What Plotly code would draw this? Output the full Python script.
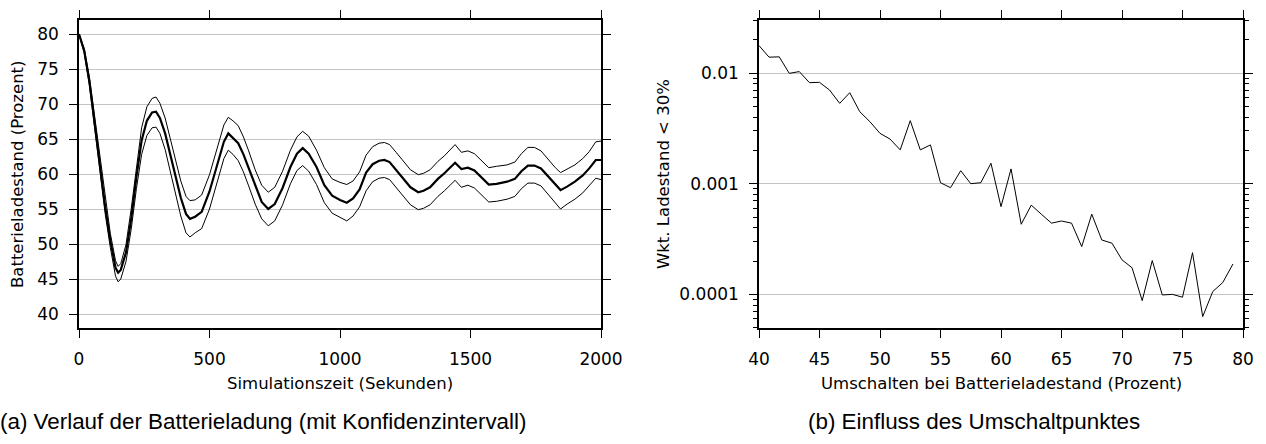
import plotly.graph_objects as go

# (a) Batterieladung ueber die Zeit (Mittelwert + Konfidenzintervall)
zeit = [0, 20, 40, 60, 80, 100, 120, 140, 150, 160, 180, 200, 220, 240, 260, 280, 295, 310,
        330, 350, 370, 390, 410, 425, 445, 470, 500, 530, 555, 572, 590, 610, 630, 650, 675,
        700, 725, 750, 780, 810, 835, 857, 880, 910, 940, 970, 1000, 1026, 1050, 1075, 1100,
        1125, 1150, 1170, 1190, 1215, 1240, 1270, 1300, 1320, 1345, 1375, 1400, 1420, 1441,
        1465, 1490, 1515, 1540, 1570, 1600, 1640, 1670, 1695, 1720, 1745, 1770, 1800, 1825,
        1845, 1870, 1900, 1930, 1955, 1980, 2000]
mittel = [80.0, 77.6, 73.2, 67.4, 61.3, 55.4, 50.5, 46.6, 45.9, 46.3, 48.8, 53.6, 59.6, 64.8,
          67.6, 68.8, 68.9, 68.0, 65.8, 62.6, 59.6, 56.6, 54.3, 53.6, 53.9, 54.6, 57.5, 61.5,
          64.6, 65.8, 65.2, 64.4, 62.8, 60.8, 58.2, 56.0, 55.0, 55.7, 58.0, 61.0, 62.9, 63.7,
          62.9, 61.0, 58.4, 56.9, 56.3, 55.9, 56.5, 57.8, 60.2, 61.4, 61.9, 62.0, 61.7, 60.6,
          59.4, 58.1, 57.4, 57.6, 58.1, 59.3, 60.1, 60.9, 61.6, 60.7, 60.9, 60.5, 59.6, 58.5,
          58.6, 58.9, 59.3, 60.4, 61.2, 61.2, 60.8, 59.5, 58.5, 57.7, 58.2, 58.9, 59.8, 60.8,
          62.0, 62.0]
oben = [80.0, 77.9, 73.8, 68.2, 62.2, 56.4, 51.5, 47.6, 46.8, 47.2, 49.9, 55.0, 61.2, 66.6,
        69.6, 70.8, 71.0, 70.1, 68.0, 65.0, 62.0, 59.0, 56.8, 56.2, 56.3, 57.0, 59.9, 63.9,
        67.0, 68.1, 67.6, 66.9, 65.3, 63.3, 60.6, 58.4, 57.4, 58.1, 60.4, 63.4, 65.3, 66.1,
        65.4, 63.4, 60.9, 59.3, 58.8, 58.5, 59.0, 60.3, 62.7, 63.9, 64.4, 64.5, 64.2, 63.1,
        61.9, 60.6, 59.9, 60.1, 60.6, 61.8, 62.6, 63.4, 64.2, 63.1, 63.3, 62.9, 62.0, 60.9,
        61.1, 61.3, 61.7, 62.9, 63.8, 63.8, 63.3, 61.9, 60.9, 60.2, 60.7, 61.3, 62.2, 63.2,
        64.6, 64.7]
unten = [80.0, 77.3, 72.6, 66.6, 60.4, 54.4, 49.5, 45.4, 44.6, 45.0, 47.5, 52.1, 57.9, 62.8,
         65.5, 66.6, 66.7, 65.8, 63.5, 60.3, 57.2, 54.0, 51.6, 51.0, 51.6, 52.2, 55.0, 59.0,
         62.2, 63.4, 62.8, 61.9, 60.3, 58.3, 55.7, 53.6, 52.6, 53.3, 55.6, 58.6, 60.5, 61.2,
         60.4, 58.5, 55.9, 54.4, 53.8, 53.3, 54.0, 55.3, 57.6, 58.9, 59.4, 59.5, 59.2, 58.1,
         56.9, 55.6, 54.9, 55.1, 55.6, 56.8, 57.6, 58.4, 59.1, 58.1, 58.4, 58.0, 57.1, 56.0,
         56.1, 56.4, 56.8, 57.9, 58.7, 58.7, 58.3, 57.0, 56.0, 55.0, 55.7, 56.4, 57.3, 58.3,
         59.4, 59.2]

# (b) Wahrscheinlichkeit Ladestand < 30% je Umschaltpunkt
umschalt = [40.0, 40.83, 41.67, 42.5, 43.33, 44.17, 45.0, 45.83, 46.67, 47.5, 48.33, 49.17,
            50.0, 50.83, 51.67, 52.5, 53.33, 54.17, 55.0, 55.83, 56.67, 57.5, 58.33, 59.17,
            60.0, 60.83, 61.67, 62.5, 63.33, 64.17, 65.0, 65.83, 66.67, 67.5, 68.33, 69.17,
            70.0, 70.83, 71.67, 72.5, 73.33, 74.17, 75.0, 75.83, 76.67, 77.5, 78.33, 79.17]
wkt = [0.0177, 0.0139, 0.0140, 0.00993, 0.0103, 0.00818, 0.00824, 0.00702, 0.00532, 0.00664,
       0.00447, 0.00363, 0.00285, 0.00253, 0.00202, 0.00371, 0.00202, 0.00224, 0.00102,
       0.00092, 0.00131, 0.00100, 0.00102, 0.00153, 0.00062, 0.00136, 0.00043, 0.00064,
       0.00053, 0.00044, 0.00046, 0.00044, 0.00027, 0.00053, 0.00031, 0.00029, 0.000205,
       0.000174, 0.0000877, 0.000202, 0.0000988, 0.000100, 0.0000942, 0.000238, 0.0000629,
       0.000106, 0.000128, 0.000188]

y_ticks_a = [40, 45, 50, 55, 60, 65, 70, 75, 80]
x_ticks_a = [0, 500, 1000, 1500, 2000]
x_ticks_b = [40, 45, 50, 55, 60, 65, 70, 75, 80]
y_ticks_b = [0.0001, 0.001, 0.01]
y_text_b = ['0.0001', '0.001', '0.01']

W, H = 1266, 444
TICKFONT = dict(family='DejaVu Sans', size=17, color='black')
TITLEFONT = dict(family='DejaVu Sans', size=16.5, color='black')
CAPFONT = dict(family='Liberation Sans', size=22.4, color='black')

fig = go.Figure()

fig.add_trace(go.Scatter(x=zeit, y=oben, mode='lines', line=dict(color='black', width=1),
                         xaxis='x', yaxis='y', showlegend=False))
fig.add_trace(go.Scatter(x=zeit, y=unten, mode='lines', line=dict(color='black', width=1),
                         xaxis='x', yaxis='y', showlegend=False))
fig.add_trace(go.Scatter(x=zeit, y=mittel, mode='lines', line=dict(color='black', width=2.2),
                         xaxis='x', yaxis='y', showlegend=False))
fig.add_trace(go.Scatter(x=umschalt, y=wkt, mode='lines', line=dict(color='black', width=1),
                         xaxis='x2', yaxis='y2', showlegend=False))

common = dict(showline=True, linecolor='black', linewidth=1.5, mirror='ticks',
              ticks='outside', ticklen=8, tickcolor='black', tickwidth=1,
              tickfont=TICKFONT, zeroline=False, ticklabelstandoff=7, automargin=False)

fig.update_layout(
    width=W, height=H,
    margin=dict(l=0, r=0, t=0, b=0, autoexpand=False),
    paper_bgcolor='white', plot_bgcolor='white',
    xaxis=dict(domain=[79 / W, 601 / W], range=[0, 2000], tickvals=x_ticks_a,
               showgrid=False, anchor='y', **common),
    yaxis=dict(domain=[1 - 328 / H, 1 - 20 / H], range=[38, 82], tickvals=y_ticks_a,
               showgrid=True, gridcolor='#c4c4c4', gridwidth=1, anchor='x', **common),
    xaxis2=dict(domain=[759 / W, 1243 / W], range=[40, 80], tickvals=x_ticks_b,
                showgrid=False, anchor='y2', **common),
    yaxis2=dict(domain=[1 - 328 / H, 1 - 20 / H], type='log', range=[-4.304, -1.521],
                tickvals=y_ticks_b, ticktext=y_text_b,
                showgrid=True, gridcolor='#c4c4c4', gridwidth=1, anchor='x2',
                minor=dict(ticks='outside', ticklen=4, tickcolor='black', dtick='D1',
                           showgrid=False),
                **common),
)

anns = [
    dict(text='Simulationszeit (Sekunden)', x=340, y=383, font=TITLEFONT),
    dict(text='Umschalten bei Batterieladestand (Prozent)', x=1001, y=383, font=TITLEFONT),
    dict(text='Batterieladestand (Prozent)', x=17, y=174, font=TITLEFONT, textangle=-90),
    dict(text='Wkt. Ladestand < 30%', x=663, y=174, font=TITLEFONT, textangle=-90),
]
for a in anns:
    fig.add_annotation(text=a['text'], x=a['x'] / W, y=1 - a['y'] / H, xref='paper',
                       yref='paper', xanchor='center', yanchor='middle', showarrow=False,
                       font=a['font'], textangle=a.get('textangle', 0))

fig.add_annotation(text='(a) Verlauf der Batterieladung (mit Konfidenzintervall)',
                   x=-2 / W, y=1 - 421 / H, xref='paper', yref='paper', xanchor='left',
                   yanchor='middle', showarrow=False, font=CAPFONT)
fig.add_annotation(text='(b) Einfluss des Umschaltpunktes',
                   x=806 / W, y=1 - 421 / H, xref='paper', yref='paper', xanchor='left',
                   yanchor='middle', showarrow=False, font=CAPFONT)

# Browser-Standardrand entfernen, damit die Grafik bei (0,0) beginnt
fig.write_html('out.html', config={'displayModeBar': False},
               post_script="document.body.style.margin='0';")
